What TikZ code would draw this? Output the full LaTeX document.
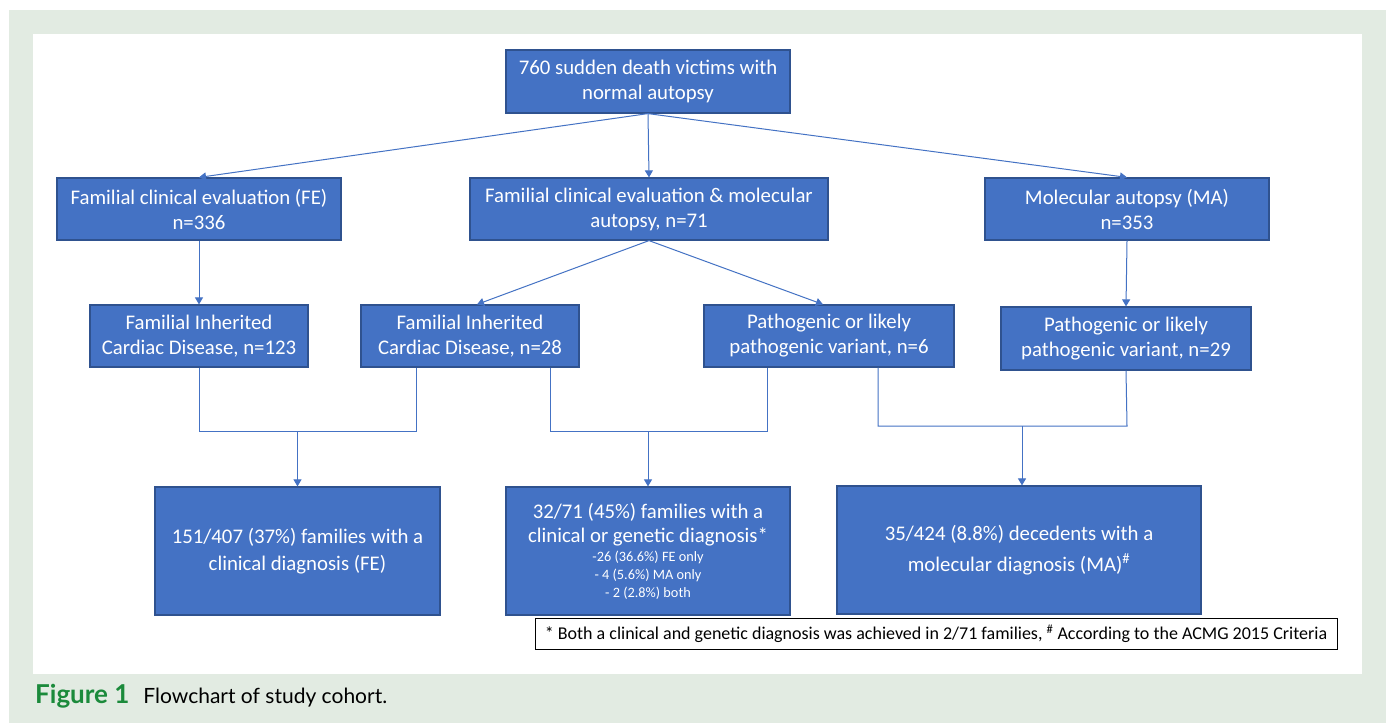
\documentclass[tikz,border=0pt]{standalone}
\usepackage{fontspec}
\setmainfont{Carlito}
\newfontfamily\capfont{Lato}
\usetikzlibrary{arrows.meta}
\definecolor{boxblue}{HTML}{4472C4}
\definecolor{boxedge}{HTML}{2F528F}
\definecolor{linkblue}{HTML}{4472C4}
\definecolor{bggreen}{RGB}{226,235,226}
\definecolor{figgreen}{HTML}{1B8A3B}
\newcommand{\smallline}[1]{{\fontsize{14.3}{16}\selectfont #1}}

\begin{document}
\begin{tikzpicture}[x=1pt,y=-1pt,
  box/.style={draw=boxedge, line width=1.2pt, fill=boxblue, text=white, align=center, inner sep=0pt, font=\fontsize{20.8}{25}\selectfont},
  link/.style={linkblue, line width=1pt},
  arr/.style={link, -{Triangle[length=7pt,width=8pt]}}]
%1. 背景与白色面板
\useasboundingbox (0,0) rectangle (1388,725);
\fill[bggreen] (9,10) rectangle (1386,723);
\fill[white] (33,34) rectangle (1362,674);
%2. 各个方框
\node[box, minimum width=284pt, minimum height=63pt] (victims) at (648,81.5) {760 sudden death victims with\\normal autopsy};
\node[box, minimum width=284pt, minimum height=62pt] (fe) at (199,209) {Familial clinical evaluation (FE)\\n=336};
\node[box, minimum width=358pt, minimum height=62pt] (fema) at (649,209) {Familial clinical evaluation \& molecular\\autopsy, n=71};
\node[box, minimum width=284pt, minimum height=62pt] (ma) at (1127,209) {Molecular autopsy (MA)\\n=353};
\node[box, minimum width=218pt, minimum height=62pt] (ficdA) at (199,336) {Familial Inherited\\Cardiac Disease, n=123};
\node[box, minimum width=218pt, minimum height=62pt] (ficdB) at (470,336) {Familial Inherited\\Cardiac Disease, n=28};
\node[box, minimum width=250pt, minimum height=62pt] (plpA) at (829,336) {Pathogenic or likely\\pathogenic variant, n=6};
\node[box, minimum width=250pt, minimum height=63pt] (plpB) at (1126,338.5) {Pathogenic or likely\\pathogenic variant, n=29};
\node[box, minimum width=285pt, minimum height=128pt, font=\fontsize{20.8}{27}\selectfont] (resA) at (297.5,551) {151/407 (37\%) families with a\\clinical diagnosis (FE)};
\node[box, minimum width=284pt, minimum height=128pt, font=\fontsize{20.8}{24}\selectfont] (resB) at (648,551) {32/71 (45\%) families with a\\clinical or genetic diagnosis*\\[-5pt] \smallline{-26 (36.6\%) FE only}\\[-6pt] \smallline{- 4 (5.6\%) MA only}\\[-6pt] \smallline{- 2 (2.8\%) both}};
\node[box, minimum width=364pt, minimum height=128pt, font=\fontsize{20.8}{31}\selectfont] (resC) at (1019,550) {35/424 (8.8\%) decedents with a\\molecular diagnosis (MA)\textsuperscript{\#}};
\node[draw=black, line width=1pt, fill=white, inner sep=0pt, minimum width=802pt, minimum height=31pt, font=\fontsize{18}{20}\selectfont] (note) at (936,633.5) {* Both a clinical and genetic diagnosis was achieved in 2/71 families, \textsuperscript{\#} According to the ACMG 2015 Criteria};
%3. 箭头
\draw[arr] (victims.south) -- (fe.north);
\draw[arr] (victims.south) -- (fema.north);
\draw[arr] (victims.south) -- (ma.north);
\draw[arr] (fe.south) -- (ficdA.north);
\draw[arr] (ma.south) -- (plpB.north);
\draw[arr] (fema.south) -- ([xshift=7pt]ficdB.north);
\draw[arr] (fema.south) -- ([xshift=-6pt]plpA.north);
%4. 汇合线
\coordinate (jA) at (416,431);
\coordinate (jB) at (767,431);
\coordinate (jC) at (1127,426);
\draw[link] (ficdA.south) |- (jA) -- ([xshift=-54pt]ficdB.south);
\draw[arr] (resA.north |- jA) -- (resA.north);
\draw[link] ([xshift=80pt]ficdB.south) |- (jB) -- ([xshift=-62pt]plpA.south);
\draw[arr] (resB.north |- jB) -- (resB.north);
\draw[link] ([xshift=49pt]plpA.south) |- (jC) -- (plpB.south);
\draw[arr] ([xshift=3pt]resC.north |- jC) -- ([xshift=3pt]resC.north);
%5. 图题
\node[anchor=base west, inner sep=0pt] (caption) at (35,703) {\capfont\textcolor{figgreen}{\fontsize{26}{30}\selectfont\bfseries Figure 1}\hspace{14pt}{\fontsize{21}{28}\selectfont Flowchart of study cohort.}};
\end{tikzpicture}
\end{document}
